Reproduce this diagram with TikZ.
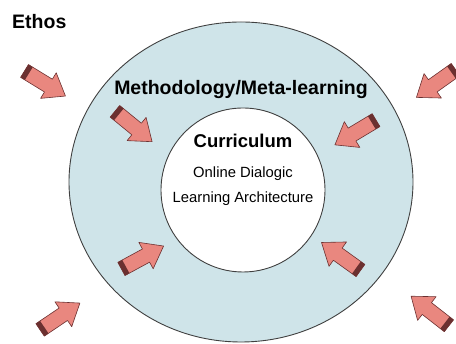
\documentclass[tikz,border=0pt]{standalone}
\usepackage{fontspec}
\setmainfont{Liberation Sans}
\usetikzlibrary{shapes.geometric}
\definecolor{ringblue}{HTML}{CFE4E9}
\definecolor{pushfill}{HTML}{E9877F}
\definecolor{pushline}{HTML}{6B3030}
\tikzstyle{ring}=[draw=black!75, fill=ringblue, ellipse, line width=0.9pt,
    minimum width=344pt, minimum height=320pt, inner sep=0pt]
\tikzstyle{core}=[draw=black!75, fill=white, circle, line width=0.9pt,
    minimum size=164pt, inner sep=0pt]
\tikzstyle{heading} = [font=\bfseries\fontsize{19.5}{22}\selectfont, anchor=base, inner sep=0pt]
\tikzstyle{subline} = [font=\fontsize{14.8}{17}\selectfont, anchor=base, inner sep=0pt]
\tikzset{push/.pic={
    \draw[pushline, fill=pushfill, line width=0.6pt, line join=round]
      (-24,-7.5) -- (4,-7.5) -- (4,-15) -- (24,0) -- (4,15) -- (4,7.5) -- (-24,7.5) -- cycle;
    \fill[pushline] (-24,-7.5) rectangle (-19,7.5);
}}

\begin{document}
\begin{tikzpicture}[x=1pt, y=1pt]
    \useasboundingbox (0,0) rectangle (456,344);
    \node (meta) [ring] at (241,162) {};
    \node (curr) [core] at (243,154) {};
    \node (ethos) [heading, anchor=base west] at (12,315) {Ethos};
    \node (method) [heading] at (241,249) {Methodology/Meta-learning};
    \node (title) [heading, font=\bfseries\fontsize{18.5}{21}\selectfont] at (curr.center |- 0,196) {Curriculum};
    \node (online) [subline] at (curr.center |- 0,166) {Online Dialogic};
    \node (arch) [subline] at (curr.center |- 0,141) {Learning Architecture};
    % pushing arrows: position x / y / direction
    \foreach \px/\py/\dir in {45/260.5/-31.5, 133.5/217.5/-39.3, 436/260.5/-144.6,
        355.5/211.5/-149, 142.5/86.5/28.5, 341/87.5/144.3, 60/27.5/34, 430/33/142}
      \pic[rotate=\dir] at (\px,\py) {push};
\end{tikzpicture}
\end{document}
